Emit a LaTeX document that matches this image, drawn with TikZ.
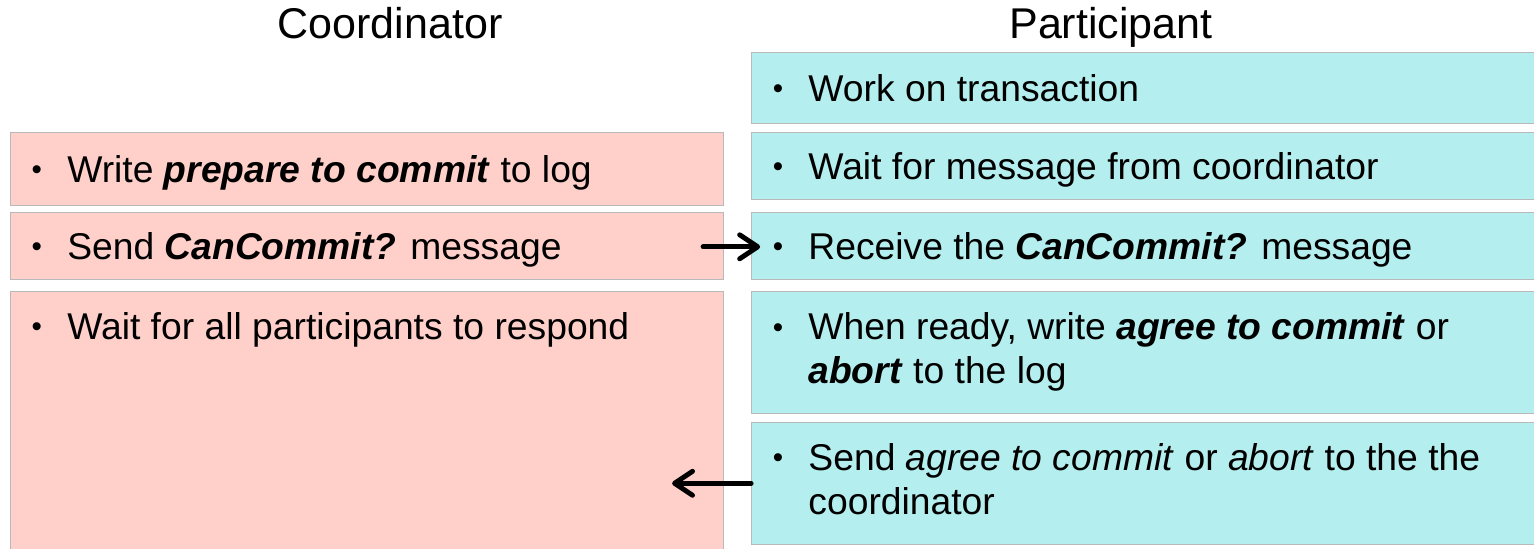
\documentclass[tikz,border=0pt]{standalone}
\usepackage{fontspec}
\setmainfont{Liberation Sans}
\usetikzlibrary{arrows.meta,positioning,calc}

\definecolor{coordpink}{RGB}{255,208,202}
\definecolor{partcyan}{RGB}{180,238,238}
\definecolor{boxedge}{RGB}{185,185,185}
\newcommand{\bi}[1]{\textbf{\textit{#1}}}
\newcommand{\dotitem}{\hspace{1pt}\raisebox{1.7pt}{\fontsize{21}{21}\selectfont\textbullet}\hspace{18pt}}

\begin{document}
\begin{tikzpicture}[x=0.025cm, y=-0.025cm,
  cbox/.style={draw=boxedge, line width=0.7pt, fill=coordpink, minimum width=17.825cm, inner sep=0pt},
  pbox/.style={fill=partcyan, minimum width=20cm, inner sep=0pt},
  item/.style={anchor=base west, inner sep=0pt, font=\fontsize{26.5}{31.3}\selectfont},
  title/.style={anchor=base, inner sep=0pt, font=\fontsize{30.6}{36}\selectfont},
  msg/.style={-{Straight Barb[length=4.5mm, width=6mm, round]}, line width=3.5pt, line cap=round}]
\useasboundingbox (0,0) rectangle (1534,548);
\clip (0,0) rectangle (1534,548);

\node[title] (coordtitle) at (390,38) {Coordinator};
\node[title] (parttitle) at (1111,38) {Participant};

% coordinator column
\node[cbox, minimum height=1.8175cm] (L1) at (367,168.65) {};
\node[cbox, minimum height=1.675cm] (L2) at (367,245.8) {};
\node[cbox, minimum height=6.5cm] (L3) at (367,421.7) {};

% participant column (runs off the right side, so no right edge)
\node[pbox, minimum height=1.7675cm] (R1) at (1151.5,87.65) {};
\node[pbox, minimum height=1.675cm] (R2) at (1151.5,165.8) {};
\node[pbox, minimum height=1.675cm] (R3) at (1151.5,245.8) {};
\node[pbox, minimum height=3.0325cm] (R4) at (1151.5,352.65) {};
\node[pbox, minimum height=3.05cm] (R5) at (1151.5,483.3) {};
\foreach \b in {R1,R2,R3,R4,R5}
  \draw[boxedge, line width=0.7pt] (\b.north east) -- (\b.north west) -- (\b.south west) -- (\b.south east);

\node[item] (L1t) at ($(L1.west)+(20,13.5)$) {\dotitem Write \bi{prepare to commit} to log};
\node[item] (L2t) at ($(L2.west)+(20,13.5)$) {\dotitem Send \bi{CanCommit?} message};
\node[item] (L3t) at ($(L3.north west)+(20,48)$) {\dotitem Wait for all participants to respond};

\node[item] (R1t) at ($(R1.west)+(20,13.5)$) {\dotitem Work on transaction};
\node[item] (R2t) at ($(R2.west)+(20,13.5)$) {\dotitem Wait for message from coordinator};
\node[item] (R3t) at ($(R3.west)+(20,13.5)$) {\dotitem Receive the \bi{CanCommit?} message};
\node[item] (R4t) at ($(R4.north west)+(20,48)$) {\dotitem\begin{tabular}[t]{@{}l@{}}When ready, write \bi{agree to commit} or\\\bi{abort} to the log\end{tabular}};
\node[item] (R5t) at ($(R5.north west)+(20,48)$) {\dotitem\begin{tabular}[t]{@{}l@{}}Send \textit{agree to commit} or \textit{abort} to the the\\coordinator\end{tabular}};

% messages between the columns
\coordinate (ackin) at ($(L3.east)+(-52,0)$);
\draw[msg] ($(L2.east)+(-21,1)$) -- ($(R3.west)+(9,1)$);
\draw[msg] (R5.west) -- (R5.west -| ackin);
\end{tikzpicture}
\end{document}
